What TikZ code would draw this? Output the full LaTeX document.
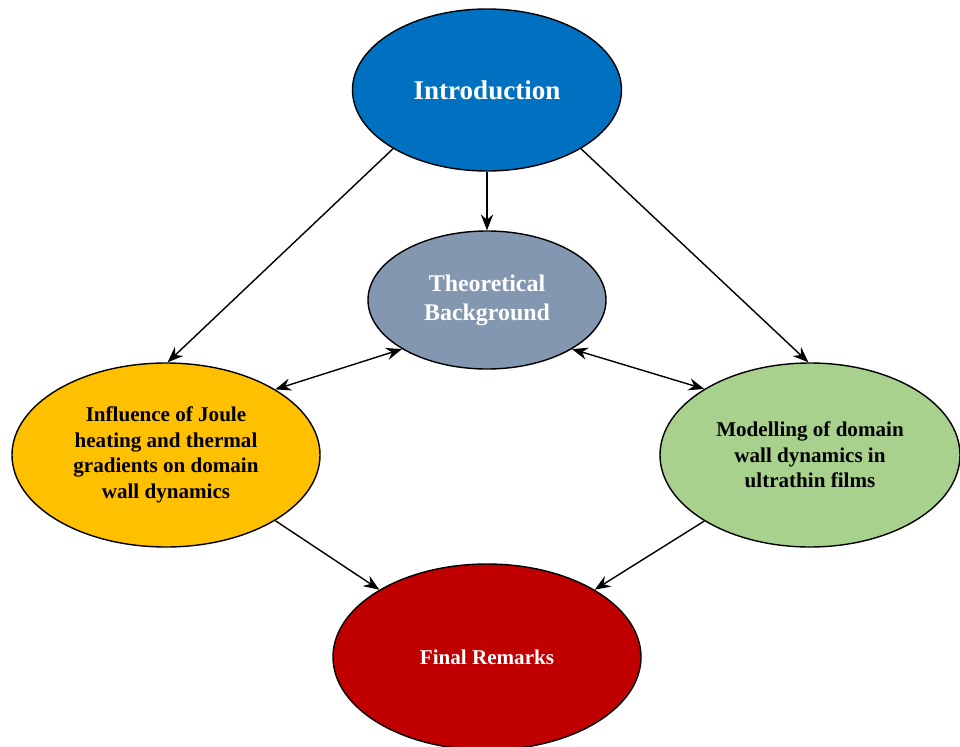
\documentclass[tikz,border=0pt]{standalone}
\usepackage{fontspec}
\setmainfont{Liberation Serif}
\usetikzlibrary{arrows.meta,shapes.geometric}

\definecolor{introblue}{HTML}{0070C0}
\definecolor{theorygray}{HTML}{8497B0}
\definecolor{jouleyellow}{HTML}{FFC000}
\definecolor{modelgreen}{HTML}{A9D18E}
\definecolor{finalred}{HTML}{C00000}

\begin{document}
\begin{tikzpicture}[
    x=0.02cm, y=-0.02cm,
    >={Stealth[length=9pt,width=7pt,inset=3pt]},
    oval/.style={draw, thick, ellipse, inner sep=0pt, align=center,
                 font=\bfseries},
    arrow/.style={->, thick},
    biarrow/.style={<->, thick},
  ]
  \useasboundingbox (0,0) rectangle (960,747);

  % ── Top: Introduction ──
  \node[oval, fill=introblue, text=white, minimum width=269*0.02cm,
        minimum height=162*0.02cm, font=\bfseries\fontsize{15.4}{18}\selectfont]
    at (487, 90) (intro) {Introduction};

  % ── Middle: Theoretical Background ──
  \node[oval, fill=theorygray, text=white, minimum width=238*0.02cm,
        minimum height=138*0.02cm, font=\bfseries\fontsize{13.6}{16.4}\selectfont]
    at (487, 300) (theory) {Theoretical\\Background};

  % ── Sides: the two research branches ──
  \node[oval, fill=jouleyellow, minimum width=308*0.02cm,
        minimum height=184*0.02cm, font=\bfseries\fontsize{12}{14.6}\selectfont]
    at (166, 455) (joule)
    {Influence of Joule\\heating and thermal\\gradients on domain\\wall dynamics};
  \node[oval, fill=modelgreen, minimum width=300*0.02cm,
        minimum height=184*0.02cm, font=\bfseries\fontsize{12}{14.6}\selectfont]
    at (810, 455) (model)
    {Modelling of domain\\wall dynamics in\\ultrathin films};

  % ── Bottom: Final Remarks ──
  \node[oval, fill=finalred, text=white, minimum width=308*0.02cm,
        minimum height=186*0.02cm, font=\bfseries\fontsize{12}{14}\selectfont]
    at (487, 657) (final) {Final Remarks};

  % ── Arrows ──
  \draw[arrow] (intro.212) -- (joule.89);
  \draw[arrow] (intro.south) -- (theory.north);
  \draw[arrow] (intro.328) -- (model.91);

  \draw[biarrow] (theory.210) -- (joule.31);
  \draw[biarrow] (theory.330) -- (model.148);

  \draw[arrow] (joule.329) -- (final.148);
  \draw[arrow] (model.212) -- (final.32);

\end{tikzpicture}
\end{document}
